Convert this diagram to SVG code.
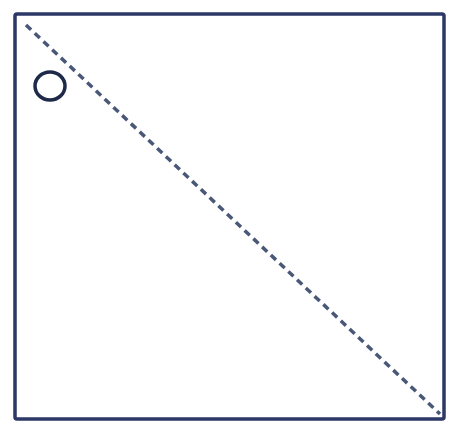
<svg xmlns="http://www.w3.org/2000/svg" width="451" height="423" viewBox="0 0 451 423">
<style>
.frame{fill:none;stroke:#2c3866;stroke-width:3.5}
.diag{fill:none;stroke:#4a5878;stroke-width:3.5;stroke-dasharray:7 5}
.mark{fill:none;stroke:#1f2a4a;stroke-width:3.5}
</style>
<rect width="451" height="423" fill="#ffffff"/>
<g id="square"><rect class="frame" x="15" y="14" width="429" height="405" rx="2"/></g>
<g id="connectors"><line class="diag" x1="26" y1="25" x2="440" y2="414"/></g>
<g id="circle"><ellipse class="mark" cx="50" cy="86" rx="15" ry="14"/></g>
</svg>
